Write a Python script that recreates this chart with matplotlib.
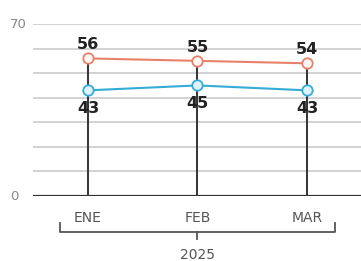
import matplotlib.pyplot as plt
import matplotlib.transforms as mtransforms

MONTHS = ["ENE", "FEB", "MAR"]
YEAR = "2025"
SERIES_TOP = [56, 55, 54]
SERIES_BOTTOM = [43, 45, 43]
Y_TICKS = [0, 70]

ORANGE = "#e8806a"
BLUE = "#34acd6"


def main():
    fig = plt.figure(figsize=(3.61, 2.61), dpi=100)
    ax = fig.add_axes([33 / 361, 65 / 261, 328 / 361, 172 / 261])
    x = list(range(len(MONTHS)))

    ax.set_ylim(0, 70)
    ax.set_xlim(-0.502, len(MONTHS) - 1 + 0.493)

    # gridlines
    for v in range(10, 71, 10):
        ax.axhline(v, color="#cfcfcf", lw=1.3, zorder=0)
    ax.axhline(0, color="#333333", lw=1.6, zorder=1)

    # stems
    ax.vlines(x, 0, SERIES_TOP, color="#333333", lw=1.4, zorder=2)

    ax.plot(x, SERIES_TOP, color=ORANGE, lw=1.5, marker="o", ms=7.5,
            mfc="#fff6f3", mec=ORANGE, mew=1.3, zorder=3)
    ax.plot(x, SERIES_BOTTOM, color=BLUE, lw=1.5, marker="o", ms=7.5,
            mfc="#dff2fa", mec=BLUE, mew=1.3, zorder=3)

    for xi, v in zip(x, SERIES_TOP):
        ax.annotate(str(v), (xi, v), xytext=(0, 4.5), textcoords="offset points",
                    ha="center", va="bottom", fontsize=11.5, fontweight="bold",
                    color="#222222", zorder=4)
    for xi, v in zip(x, SERIES_BOTTOM):
        ax.annotate(str(v), (xi, v), xytext=(0, -7.5), textcoords="offset points",
                    ha="center", va="top", fontsize=11.5, fontweight="bold",
                    color="#222222", zorder=4)

    for s in ax.spines.values():
        s.set_visible(False)
    ax.set_xticks([])
    ax.set_yticks([])

    # y labels, left aligned like the original
    ytrans = mtransforms.blended_transform_factory(fig.transFigure, ax.transData)
    for t in Y_TICKS:
        fig.text(10 / 361, t, str(t), transform=ytrans, ha="left", va="center",
                 fontsize=9.5, color="#888888")

    # month labels and year bracket
    trans = mtransforms.blended_transform_factory(ax.transData, ax.transAxes)
    px = 1 / 172
    for xi, m in zip(x, MONTHS):
        ax.text(xi, -22 * px, m, transform=trans, ha="center", va="center",
                fontsize=10, color="#555555")
    left, right = -0.255, len(MONTHS) - 1 + 0.255
    mid = (len(MONTHS) - 1) / 2
    by = -36 * px
    ax.plot([left, left, right, right], [-27 * px, by, by, -27 * px],
            color="#555555", lw=1.3, transform=trans, clip_on=False)
    ax.plot([mid, mid], [by, -43 * px], color="#555555", lw=1.3,
            transform=trans, clip_on=False)
    ax.text(mid, -59 * px, YEAR, transform=trans, ha="center", va="center",
            fontsize=10, color="#555555")

    fig.savefig("out.png", dpi=100)


if __name__ == "__main__":
    main()
